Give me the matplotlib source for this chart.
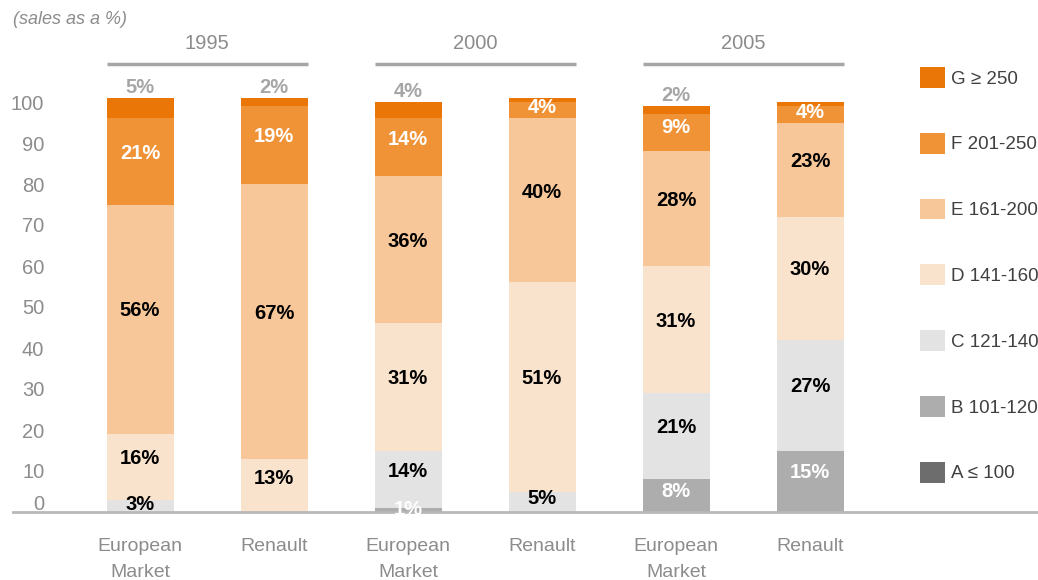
import matplotlib
matplotlib.use('Agg')
import matplotlib.pyplot as plt
from matplotlib.transforms import ScaledTranslation

plt.rcParams['font.family'] = ['Liberation Sans Narrow', 'Liberation Sans', 'DejaVu Sans']

# data (sales as a %), one value per bar, bars in order 1995 EM, 1995 Renault, 2000 EM, ...
categories = ['European\nMarket', 'Renault', 'European\nMarket', 'Renault', 'European\nMarket', 'Renault']
years = ['1995', '2000', '2005']
bands = ['A ≤ 100', 'B 101-120', 'C 121-140', 'D 141-160', 'E 161-200', 'F 201-250', 'G ≥ 250']
a_vals = [0, 0, 0, 0, 0, 0]
b_vals = [0, 0, 1, 0, 8, 15]
c_vals = [3, 0, 14, 5, 21, 27]
d_vals = [16, 13, 31, 51, 31, 30]
e_vals = [56, 67, 36, 40, 28, 23]
f_vals = [21, 19, 14, 4, 9, 4]
g_vals = [5, 2, 4, 1, 2, 1]

colors = ['#6d6d6d', '#adadad', '#e2e3e2', '#fae3cc', '#f7c799', '#f09337', '#ea7608']
text_colors = ['white', 'white', 'black', 'black', 'black', 'white', '#a6a6a6']
grey = '#8c8c8c'

W, H = 1038, 580
fig = plt.figure(figsize=(W / 100, H / 100), dpi=100)
ax = fig.add_axes([13 / W, 1 - 512 / H, 1 - 13 / W, 512 / H])

x = list(range(len(categories)))
ax.set_xlim(-127 / 134, 898 / 134)
ax.set_ylim(0, 512 / 4.1)

series = [a_vals, b_vals, c_vals, d_vals, e_vals, f_vals, g_vals]
bottom = [0] * len(x)
for k, vals in enumerate(series):
    ax.bar(x, vals, 0.5, bottom=bottom, color=colors[k], label=bands[k], linewidth=0)
    for i, v in enumerate(vals):
        if v == 0:
            continue
        if k == len(series) - 1:
            if v >= 2:
                ax.annotate(f'{v}%', (x[i], bottom[i] + v), xytext=(0, 1), textcoords='offset points',
                            ha='center', va='bottom', color=text_colors[k], fontsize=14.5, fontweight='bold')
        else:
            ax.annotate(f'{v}%', (x[i], bottom[i] + v / 2), xytext=(0, min(6, v * 0.4)),
                        textcoords='offset points', ha='center', va='center',
                        color=text_colors[k], fontsize=14.5, fontweight='bold')
    bottom = [b + v for b, v in zip(bottom, vals)]

# year headers over each pair of bars
for g, year in enumerate(years):
    x0 = x[2 * g] - 0.25
    x1 = x[2 * g + 1] + 0.25
    ax.plot([x0, x1], [109.3, 109.3], color='#a6a6a6', lw=2.5, clip_on=False, solid_capstyle='butt')
    ax.text((x0 + x1) / 2, 114.2, year, ha='center', va='center', color=grey, fontsize=14.5)

fig.text(13 / W, 1 - 20 / H, '(sales as a %)', style='italic', color=grey, fontsize=13, va='center')

ax.set_yticks(range(0, 101, 10))
ax.tick_params(axis='y', length=0, pad=-22.5, labelsize=14.5, labelcolor=grey)
ax.get_yticklabels()[0].set_transform(ax.get_yticklabels()[0].get_transform()
                                      + ScaledTranslation(0, 0.1, fig.dpi_scale_trans))
ax.set_xticks(x, categories)
ax.tick_params(axis='x', length=0, pad=19, labelsize=14, labelcolor=grey)
for lbl in ax.get_xticklabels():
    lbl.set_linespacing(1.65)

for s in ['top', 'right', 'left']:
    ax.spines[s].set_visible(False)
ax.spines['bottom'].set_color('#b8b8b8')
ax.spines['bottom'].set_linewidth(2)

handles, labels = ax.get_legend_handles_labels()
ax.legend(handles[::-1], labels[::-1], loc='upper left', bbox_to_anchor=(920 / W, 1 - 67 / H),
          bbox_transform=fig.transFigure, frameon=False, fontsize=13.5, handlelength=1.33,
          handleheight=1.33, handletextpad=0.3, labelspacing=2.4, borderpad=0, borderaxespad=0,
          labelcolor='#404040')

fig.savefig('out.png', dpi=100)
